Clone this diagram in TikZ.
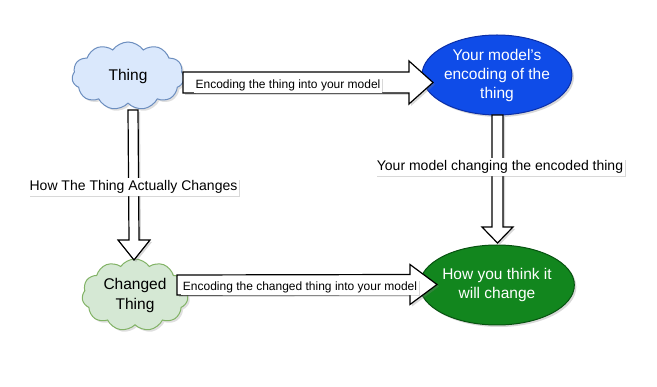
\documentclass[tikz,border=0pt]{standalone}
\usepackage{fontspec}
\setmainfont{Liberation Sans}
\usetikzlibrary{shapes.symbols,shapes.geometric,shadows,calc}
\definecolor{cloudblue}{HTML}{DAE8FC}
\definecolor{cloudblueline}{HTML}{6C8EBF}
\definecolor{cloudgreen}{HTML}{D5E8D4}
\definecolor{cloudgreenline}{HTML}{82B366}
\definecolor{ellblue}{HTML}{0F4CE8}
\definecolor{ellblueline}{HTML}{0B2FA8}
\definecolor{ellgreen}{HTML}{12861E}
\definecolor{ellgreenline}{HTML}{075210}
\newcommand{\myharrow}[5]{%
  \draw[fatarrow] ($(#1)+(0,-#3)$) -- ($(#2)+(-#5,-#3)$) -- ($(#2)+(-#5,-#4)$) -- (#2)
    -- ($(#2)+(-#5,#4)$) -- ($(#2)+(-#5,#3)$) -- ($(#1)+(0,#3)$) -- cycle;}
\newcommand{\myvarrow}[5]{%
  \draw[fatarrow] ($(#1)+(-#3,0)$) -- ($(#2)+(-#3,-#5)$) -- ($(#2)+(-#4,-#5)$) -- (#2)
    -- ($(#2)+(#4,-#5)$) -- ($(#2)+(#3,-#5)$) -- ($(#1)+(#3,0)$) -- cycle;}
\begin{document}
\begin{tikzpicture}[x=1pt,y=-1pt,
  cloudnode/.style={cloud, cloud puffs=11, cloud puff arc=110, aspect=1.6, line width=1pt,
     inner sep=0pt, align=center, font=\fontsize{15.5}{20}\selectfont,
     drop shadow={opacity=0.25, shadow xshift=2pt, shadow yshift=-2pt}},
  ellnode/.style={ellipse, line width=1pt, inner sep=0pt, align=center, text=white,
     font=\fontsize{15.5}{19}\selectfont,
     drop shadow={opacity=0.3, shadow xshift=2pt, shadow yshift=-2pt}},
  fatarrow/.style={draw=black, fill=white, line width=1.2pt, line join=miter,
     drop shadow={opacity=0.3, shadow xshift=2pt, shadow yshift=-2pt}},
  lbl/.style={fill=white, inner xsep=1.5pt, inner ysep=2pt,
     drop shadow={opacity=0.3, shadow xshift=1.5pt, shadow yshift=-1.5pt}},
  smalllbl/.style={lbl, font=\fontsize{12}{14}\selectfont},
  biglbl/.style={lbl, font=\fontsize{14}{16}\selectfont}
]
\useasboundingbox (0,0) rectangle (657,387);
\fill[white] (0,0) rectangle (657,387);

% nodes
\node[cloudnode, fill=cloudblue, draw=cloudblueline, minimum width=112pt, minimum height=68pt]
  (thing) at (128,76) {Thing};
\node[cloudnode, fill=cloudgreen, draw=cloudgreenline, minimum width=106pt, minimum height=72pt]
  (changed) at (135,295) {Changed\\Thing};
\node[ellnode, fill=ellblue, draw=ellblueline, minimum width=130pt, minimum height=80pt]
  (enc) at (497,75) {Your model's\\encoding of the\\thing};
\node[ellnode, fill=ellgreen, draw=ellgreenline, minimum width=127pt, minimum height=80pt]
  (think) at (497,285) {How you think it\\will change};

% connector end points
\coordinate (a1s) at (183,82.5);
\coordinate (a1e) at (433,82.5);
\coordinate (a2s) at (133,110);
\coordinate (a2e) at (134,260);
\coordinate (a3s) at (497.5,115);
\coordinate (a3e) at (497.5,243);
\coordinate (a4s) at (177,285);
\coordinate (a4e) at (437,284.5);

% connectors
\myharrow{a1s}{a1e}{10.5}{21.5}{24}
\myvarrow{a2s}{a2e}{5}{16}{20}
\myvarrow{a3s}{a3e}{5.5}{15.5}{16}
\myharrow{a4s}{a4e}{10}{20}{27}

% labels
\node[smalllbl] (l1) at (288,85) {Encoding the thing into your model};
\node[biglbl] (l2) at (133.5,187) {How The Thing Actually Changes};
\node[biglbl] (l3) at (500,167) {Your model changing the encoded thing};
\node[smalllbl] (l4) at (300,287) {Encoding the changed thing into your model};
\end{tikzpicture}
\end{document}
